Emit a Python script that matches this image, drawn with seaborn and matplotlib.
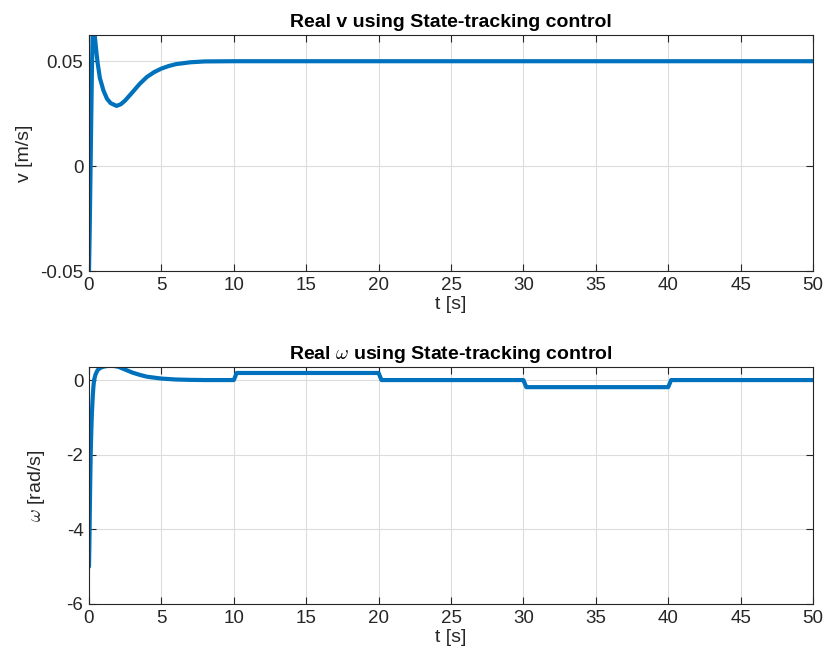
import numpy as np
import pandas as pd
import matplotlib
matplotlib.use("Agg")
import matplotlib.pyplot as plt
import seaborn as sns

# v(t) readings
t_v = [0.0, 0.05, 0.1, 0.15, 0.2, 0.25, 0.3, 0.35, 0.4, 0.5, 0.6, 0.75, 1.0, 1.25, 1.5, 1.9,
       2.2, 2.5, 3.0, 3.5, 4.0, 4.5, 5.0, 5.5, 6.0, 7.0, 8.0, 10.0, 20.0, 30.0, 40.0, 50.0]
v_vals = [-0.05, -0.03, -0.005, 0.02, 0.045, 0.062, 0.066, 0.065, 0.062, 0.055, 0.049, 0.042,
          0.036, 0.032, 0.0300, 0.0287, 0.0295, 0.0313, 0.0352, 0.0392, 0.0425, 0.0448, 0.0465,
          0.0477, 0.0486, 0.0495, 0.0499, 0.0500, 0.0500, 0.0500, 0.0500, 0.0500]

# omega(t) readings
t_w = [0.0, 0.03, 0.06, 0.09, 0.12, 0.16, 0.2, 0.25, 0.3, 0.35, 0.45, 0.6, 0.8, 1.0, 1.3, 1.6,
       2.0, 2.5, 3.0, 3.5, 4.0, 5.0, 6.0, 7.0, 8.0, 9.99,
       10.0, 10.2, 19.99, 20.0, 20.2, 29.99, 30.0, 30.2, 39.99, 40.0, 40.2, 50.0]
w_vals = [-5.0, -4.3, -3.4, -2.6, -1.95, -1.35, -0.9, -0.5, -0.2, 0.0, 0.15, 0.27, 0.33, 0.36,
          0.38, 0.385, 0.36, 0.28, 0.2, 0.14, 0.09, 0.04, 0.015, 0.005, 0.0, 0.0,
          0.0, 0.19, 0.19, 0.19, 0.0, 0.0, 0.0, -0.19, -0.19, -0.19, 0.0, 0.0]

df_v = pd.DataFrame({"t": t_v, "v": v_vals})
df_w = pd.DataFrame({"t": t_w, "w": w_vals})

sns.set_theme(style="white")
plt.rcParams['font.family'] = ['Liberation Sans', 'DejaVu Sans']
plt.rcParams['mathtext.fontset'] = 'cm'

fig = plt.figure(figsize=(8.27, 6.66), dpi=100)
W, H = 827, 666
ax1 = fig.add_axes([89 / W, 1 - 271 / H, (813 - 89) / W, (271 - 35) / H])
ax2 = fig.add_axes([89 / W, 1 - 604 / H, (813 - 89) / W, (604 - 367) / H])

color = "#0072BD"
sns.lineplot(data=df_v, x="t", y="v", ax=ax1, color=color, linewidth=3, estimator=None, sort=False)
sns.lineplot(data=df_w, x="t", y="w", ax=ax2, color=color, linewidth=3, estimator=None, sort=False)

xticks = list(range(0, 51, 5))
for ax in (ax1, ax2):
    ax.set_xlim(0, 50)
    ax.set_xticks(xticks)
    ax.grid(True, color="#dcdcdc", linewidth=0.8)
    ax.set_axisbelow(True)
    for s in ax.spines.values():
        s.set_color("#262626")
        s.set_linewidth(0.8)
        s.set_visible(True)
    ax.tick_params(direction="in", length=5, width=0.8, color="#262626",
                   labelsize=13.5, labelcolor="#262626", top=True, right=True,
                   bottom=True, left=True, pad=4)
    ax.set_xlabel("t [s]", fontsize=14, color="#262626", labelpad=2)

ax1.set_ylim(-0.05, 0.0625)
ax1.set_yticks([-0.05, 0, 0.05])
ax1.set_yticklabels(["-0.05", "0", "0.05"])
ax1.set_ylabel("v [m/s]", fontsize=14, color="#262626", labelpad=5)
ax1.set_title("Real v using State-tracking control", fontsize=14, fontweight="bold",
              color="#000000", pad=6)

ax2.set_ylim(-6, 0.35)
ax2.set_yticks([-6, -4, -2, 0])
ax2.set_yticklabels(["-6", "-4", "-2", "0"])
ax2.set_ylabel(r"$\omega$ [rad/s]", fontsize=14, color="#262626", labelpad=14)
ax2.set_title(r"Real $\omega$ using State-tracking control", fontsize=14, fontweight="bold",
              color="#000000", pad=6)

for ax in (ax1, ax2):
    ax.set_xticklabels([str(x) for x in xticks])

fig.savefig("out.png", dpi=100, facecolor="white")
